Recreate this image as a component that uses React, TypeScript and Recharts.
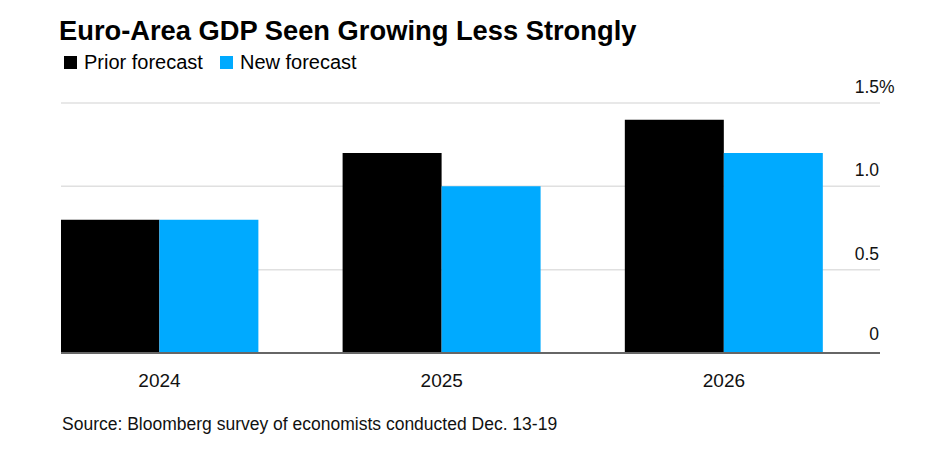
import React from "react";
import { BarChart, Bar, XAxis, YAxis, CartesianGrid } from "recharts";

const years = ["2024", "2025", "2026"];
const priorForecast = [0.8, 1.2, 1.4];
const newForecast = [0.8, 1.0, 1.2];
const yTicks = [0, 0.5, 1.0, 1.5];
const yTickLabels = ["0", "0.5", "1.0", "1.5"];

const data = years.map((year, i) => ({
  idx: i,
  year,
  prior: priorForecast[i],
  next: newForecast[i],
}));

const FONT = "'Liberation Sans', Arial, Helvetica, sans-serif";
const BLUE = "#00aaff";

const XTick = (props: any) => {
  const { x, y, payload } = props;
  return (
    <text x={x} y={y + 34} textAnchor="middle" fontFamily={FONT} fontSize={19} fill="#111">
      {years[payload.value]}
    </text>
  );
};

const YTick = (props: any) => {
  const { y, payload, index } = props;
  const right = 879;
  const i = yTicks.indexOf(payload.value);
  const label = yTickLabels[i >= 0 ? i : index];
  const isTop = payload.value === 1.5;
  const dy = payload.value === 0 ? -13 : -10;
  return (
    <g>
      <text x={right} y={y + dy} textAnchor="end" fontFamily={FONT} fontSize={17.5} fill="#111">
        {label}
      </text>
      {isTop && (
        <text x={right} y={y + dy} textAnchor="start" fontFamily={FONT} fontSize={17.5} fill="#111">
          %
        </text>
      )}
    </g>
  );
};

export default function App() {
  return (
    <div style={{ position: "absolute", left: 0, top: 0, width: 930, height: 465, background: "#fff", fontFamily: FONT, color: "#000" }}>
      <div style={{ position: "absolute", left: 59, top: 17, fontSize: 27.3, fontWeight: 700, lineHeight: 1, whiteSpace: "nowrap" }}>
        Euro-Area GDP Seen Growing Less Strongly
      </div>
      <div style={{ position: "absolute", left: 64, top: 52, display: "flex", alignItems: "center", fontSize: 20, lineHeight: 1, whiteSpace: "nowrap" }}>
        <span style={{ display: "inline-block", width: 13, height: 13, background: "#000", marginRight: 7 }} />
        <span style={{ marginRight: 17 }}>Prior forecast</span>
        <span style={{ display: "inline-block", width: 13, height: 13, background: BLUE, marginRight: 7 }} />
        <span>New forecast</span>
      </div>
      <div style={{ position: "absolute", left: 62, top: 416, fontSize: 17.5, lineHeight: 1, whiteSpace: "nowrap", color: "#111" }}>
        Source: Bloomberg survey of economists conducted Dec. 13-19
      </div>
      <div style={{ position: "absolute", left: 0, top: 0 }}>
        <BarChart
          width={930}
          height={465}
          data={data}
          margin={{ top: 103, right: 0, bottom: 82, left: 61 }}
          barGap={0}
        >
          <CartesianGrid vertical={false} stroke="#e0e0e0" strokeWidth={1.5} />
          <XAxis
            dataKey="idx"
            type="number"
            domain={[-0.349, 2.553]}
            ticks={[0, 1, 2]}
            allowDataOverflow
            height={30}
            tickLine={false}
            tickSize={0}
            tickMargin={0}
            tick={<XTick />}
            axisLine={{ stroke: "#666", strokeWidth: 2 }}
          />
          <YAxis
            orientation="right"
            width={50}
            domain={[0, 1.5]}
            ticks={yTicks}
            axisLine={false}
            tickLine={false}
            tick={<YTick />}
          />
          <Bar dataKey="prior" fill="#000" barSize={99} isAnimationActive={false} />
          <Bar dataKey="next" fill={BLUE} barSize={99} isAnimationActive={false} />
        </BarChart>
      </div>
    </div>
  );
}
